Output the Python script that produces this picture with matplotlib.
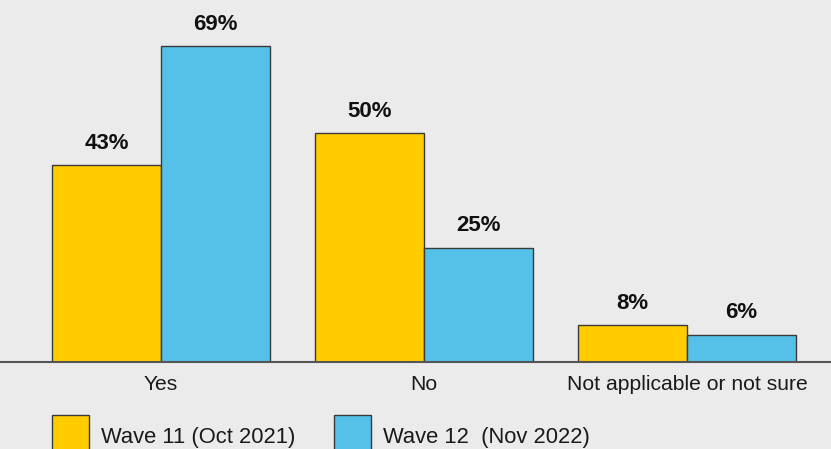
import matplotlib
matplotlib.use("Agg")
import matplotlib.pyplot as plt
from matplotlib.patches import Rectangle
import numpy as np

categories = ["Yes", "No", "Not applicable or not sure"]
wave11 = [43, 50, 8]
wave12 = [69, 25, 6]
series_names = ["Wave 11 (Oct 2021)", "Wave 12  (Nov 2022)"]

yellow = "#FFCC00"
blue = "#55C1E8"
bg = "#EBEBEB"

plt.rcParams['font.family'] = ['Liberation Sans', 'DejaVu Sans']

W, H = 831, 449
fig = plt.figure(figsize=(W / 100, H / 100), dpi=100, facecolor=bg)
# axes fills the width, baseline at y=362px
ax = fig.add_axes([0, (H - 362) / H, 1, 362 / H], facecolor=bg)

x = np.arange(len(categories))
w = 109 / 263
b1 = ax.bar(x - w / 2, wave11, w, color=yellow, edgecolor="#3a3a3a", linewidth=1)
b2 = ax.bar(x + w / 2, wave12, w, color=blue, edgecolor="#3a3a3a", linewidth=1)

for bars, vals in [(b1, wave11), (b2, wave12)]:
    for rect, v in zip(bars, vals):
        ax.annotate(f"{v}%", (rect.get_x() + rect.get_width() / 2, rect.get_height()),
                    xytext=(0, 8), textcoords="offset points", ha="center", va="bottom",
                    fontsize=16, fontweight="bold", color="#111111")

ax.set_xlim(-161 / 263, (831 - 161) / 263)
ax.set_ylim(0, 362 / 4.58)
ax.set_xticks(x)
ax.set_xticklabels(categories, fontsize=15.2, color="#1a1a1a")
ax.tick_params(axis="x", length=0, pad=9)
ax.set_yticks([])
for s in ["top", "right", "left"]:
    ax.spines[s].set_visible(False)
ax.spines["bottom"].set_color("#555555")
ax.spines["bottom"].set_linewidth(1.5)

# legend boxes along the bottom edge
for x0, col, label in [(52, yellow, series_names[0]), (334, blue, series_names[1])]:
    fig.patches.append(Rectangle((x0 / W, -0.05), 37 / W, (H - 415) / H + 0.05,
                                 transform=fig.transFigure, facecolor=col,
                                 edgecolor="#3a3a3a", linewidth=1))
    fig.text((x0 + 49) / W, (H - 437) / H, label, fontsize=15.8, va="center",
             ha="left", color="#1a1a1a")

fig.savefig("out.png", dpi=100, facecolor=bg)
